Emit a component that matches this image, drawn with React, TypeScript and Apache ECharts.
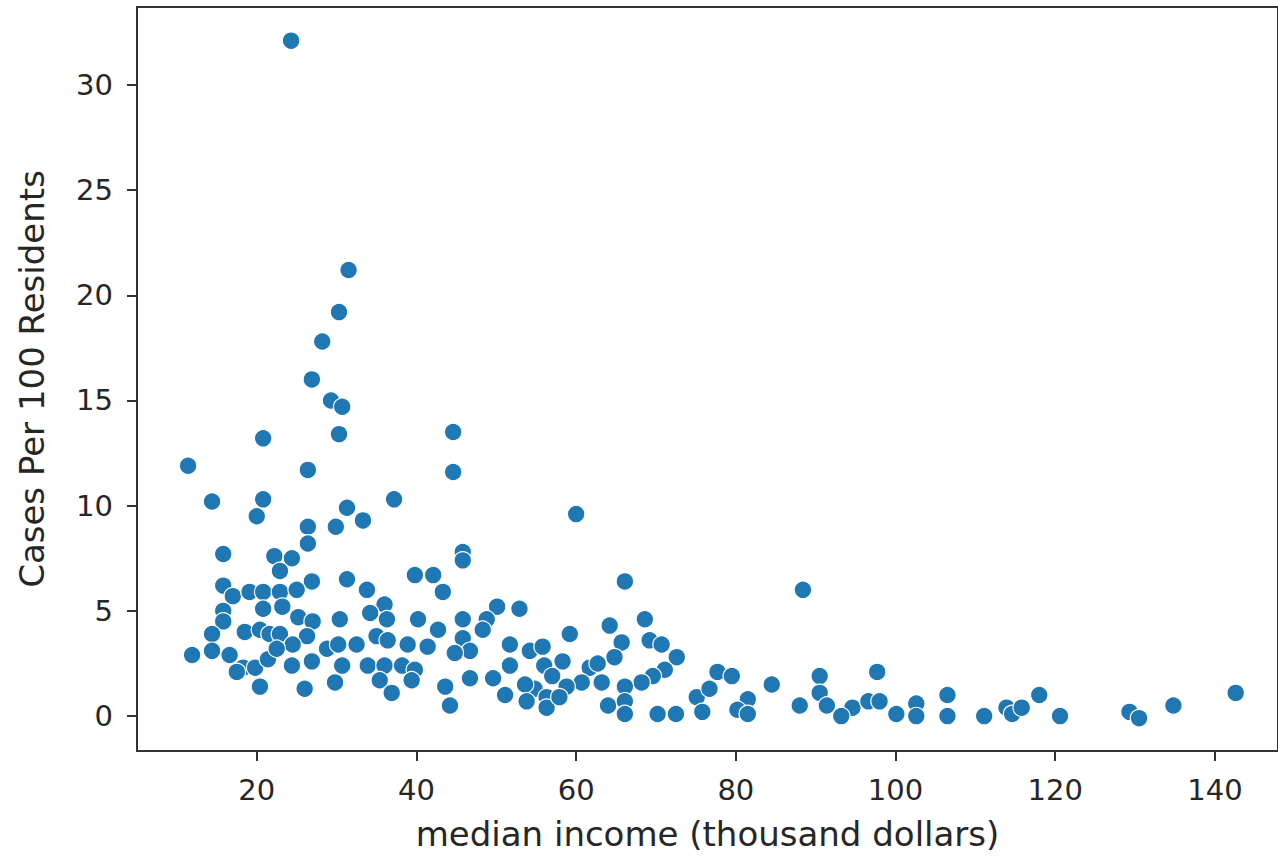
import React, { useEffect, useRef } from "react";
import * as echarts from "echarts";

const medianIncome = [
  24.3, 31.5, 30.3, 28.2, 26.9, 29.3, 30.7, 30.3, 44.6, 44.6,
  20.8, 11.4, 26.4, 14.4, 20.8, 37.2, 31.3, 20.0, 26.4, 29.9,
  33.3, 26.4, 45.8, 45.8, 15.8, 22.2, 24.4, 22.9, 60.0, 31.3,
  39.8, 42.1, 26.9, 15.8, 17.0, 19.1, 20.8, 22.9, 25.0, 33.8,
  43.3, 66.1, 88.4, 15.8, 15.8, 20.8, 23.2, 25.2, 27.0, 36.0,
  50.1, 52.9, 34.2, 30.4, 36.3, 40.2, 45.8, 48.8, 42.7, 48.3,
  68.6, 64.2, 59.2, 14.4, 18.5, 20.4, 21.6, 22.9, 26.3, 24.5,
  11.9, 14.4, 16.6, 18.3, 17.5, 19.8, 21.4, 22.5, 24.4, 26.9,
  28.8, 20.4, 26.0, 30.2, 32.5, 35.0, 36.4, 38.9, 41.4, 45.8,
  46.7, 51.7, 30.7, 33.9, 36.0, 38.2, 39.8, 44.8, 51.7, 29.8,
  35.4, 39.4, 36.9, 43.6, 46.7, 49.6, 51.1, 44.2, 65.7, 69.2,
  70.7, 54.2, 55.8, 64.8, 72.6, 58.3, 61.7, 62.7, 56.0, 57.0,
  71.1, 69.6, 68.2, 60.7, 63.2, 58.8, 54.8, 53.6, 66.1, 56.3,
  53.8, 56.3, 57.9, 64.0, 66.1, 66.1, 70.2, 72.5, 75.1, 77.7,
  79.5, 84.5, 90.5, 90.5, 97.7, 76.7, 75.8, 81.5, 80.2, 81.5,
  88.0, 91.4, 94.6, 93.2, 96.6, 98.0, 100.1, 102.6, 102.6, 106.5,
  106.5, 111.1, 113.9, 114.6, 115.8, 118.0, 120.6, 129.3, 130.5, 134.8,
  142.6,
];

const casesPer100 = [
  32.1, 21.2, 19.2, 17.8, 16.0, 15.0, 14.7, 13.4, 13.5, 11.6,
  13.2, 11.9, 11.7, 10.2, 10.3, 10.3, 9.9, 9.5, 9.0, 9.0,
  9.3, 8.2, 7.8, 7.4, 7.7, 7.6, 7.5, 6.9, 9.6, 6.5,
  6.7, 6.7, 6.4, 6.2, 5.7, 5.9, 5.9, 5.9, 6.0, 6.0,
  5.9, 6.4, 6.0, 5.0, 4.5, 5.1, 5.2, 4.7, 4.5, 5.3,
  5.2, 5.1, 4.9, 4.6, 4.6, 4.6, 4.6, 4.6, 4.1, 4.1,
  4.6, 4.3, 3.9, 3.9, 4.0, 4.1, 3.9, 3.9, 3.8, 3.4,
  2.9, 3.1, 2.9, 2.3, 2.1, 2.3, 2.7, 3.2, 2.4, 2.6,
  3.2, 1.4, 1.3, 3.4, 3.4, 3.8, 3.6, 3.4, 3.3, 3.7,
  3.1, 3.4, 2.4, 2.4, 2.4, 2.4, 2.2, 3.0, 2.4, 1.6,
  1.7, 1.7, 1.1, 1.4, 1.8, 1.8, 1.0, 0.5, 3.5, 3.6,
  3.4, 3.1, 3.3, 2.8, 2.8, 2.6, 2.3, 2.5, 2.4, 1.9,
  2.2, 1.9, 1.6, 1.6, 1.6, 1.4, 1.3, 1.5, 1.4, 0.9,
  0.7, 0.4, 0.9, 0.5, 0.7, 0.1, 0.1, 0.1, 0.9, 2.1,
  1.9, 1.5, 1.9, 1.1, 2.1, 1.3, 0.2, 0.8, 0.3, 0.1,
  0.5, 0.5, 0.4, 0.0, 0.7, 0.7, 0.1, 0.6, 0.0, 1.0,
  0.0, 0.0, 0.4, 0.1, 0.4, 1.0, 0.0, 0.2, -0.1, 0.5,
  1.1,
];

const xTicks = [20, 40, 60, 80, 100, 120, 140];
const yTicks = [0, 5, 10, 15, 20, 25, 30];

const FONT = "DejaVu Sans";
const INK = "#262626";
const SPINE = "#333333";

export default function App() {
  const ref = useRef<HTMLDivElement>(null);

  useEffect(() => {
    const chart = echarts.init(ref.current as HTMLDivElement, null, { renderer: "svg" });
    const points = medianIncome.map((x, i) => [x, casesPer100[i]]);
    chart.setOption({
      animation: false,
      backgroundColor: "#ffffff",
      grid: {
        left: 137,
        top: 7,
        width: 1142,
        height: 745,
        show: true,
        borderColor: SPINE,
        borderWidth: 2,
        backgroundColor: "transparent",
      },
      xAxis: {
        type: "value",
        min: 5.0,
        max: 147.9,
        name: "median income (thousand dollars)",
        nameLocation: "middle",
        nameGap: 66,
        nameTextStyle: { fontFamily: FONT, fontSize: 34, color: INK },
        axisLine: { show: true, onZero: false, lineStyle: { color: SPINE, width: 2 } },
        axisTick: { show: true, customValues: xTicks, length: 10, lineStyle: { color: SPINE, width: 2 } },
        axisLabel: { customValues: xTicks, fontFamily: FONT, fontSize: 29, color: INK, margin: 24 },
        splitLine: { show: false },
      },
      yAxis: {
        type: "value",
        min: -1.66,
        max: 33.7,
        name: "Cases Per 100 Residents",
        nameLocation: "middle",
        nameGap: 88,
        nameRotate: 90,
        nameTextStyle: { fontFamily: FONT, fontSize: 34, color: INK },
        axisLine: { show: true, onZero: false, lineStyle: { color: SPINE, width: 2 } },
        axisTick: { show: true, customValues: yTicks, length: 10, lineStyle: { color: SPINE, width: 2 } },
        axisLabel: { customValues: yTicks, fontFamily: FONT, fontSize: 29, color: INK, margin: 24 },
        splitLine: { show: false },
      },
      series: [
        {
          type: "scatter",
          data: points,
          symbol: "circle",
          symbolSize: 17.5,
          itemStyle: { color: "#1f77b4", borderColor: "#ffffff", borderWidth: 1.2, opacity: 1 },
        },
      ],
    });
    return () => chart.dispose();
  }, []);

  return (
    <div
      ref={ref}
      style={{ position: "fixed", left: 0, top: 0, width: 1278, height: 856, background: "#ffffff" }}
    />
  );
}
